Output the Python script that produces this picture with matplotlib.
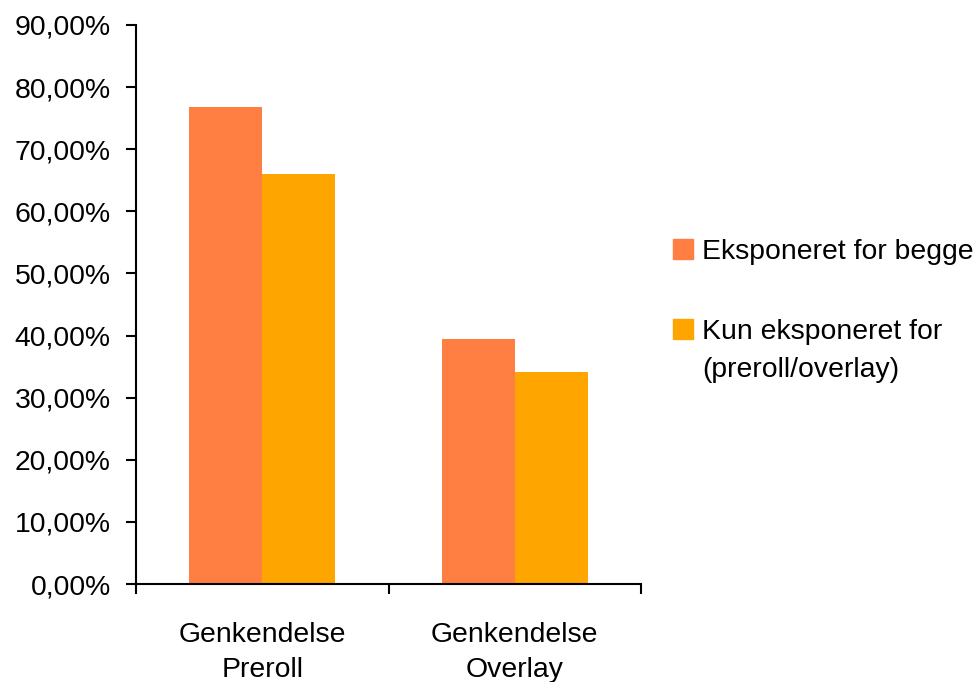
import matplotlib
matplotlib.use("Agg")
import matplotlib.pyplot as plt
import numpy as np
from matplotlib.ticker import FuncFormatter, FixedLocator
from matplotlib.patches import Rectangle

categories = ["Genkendelse\nPreroll", "Genkendelse\nOverlay"]
series_names = ["Eksponeret for begge", "Kun eksponeret for\n(preroll/overlay)"]
eksponeret = [76.8, 39.4]
kun = [66.0, 34.1]
colors = ["#FF7F42", "#FFA500"]

plt.rcParams['font.family'] = ['Liberation Sans', 'DejaVu Sans']
fs = 20.4
W, H = 979, 682

fig = plt.figure(figsize=(W/100, H/100), dpi=100)
ax = fig.add_axes([136/W, 1-584/H, (641-136)/W, (584-25)/H])

x = np.arange(len(categories))
w = 0.29
ax.bar(x - w/2, eksponeret, width=w, color=colors[0], label=series_names[0])
ax.bar(x + w/2, kun, width=w, color=colors[1], label=series_names[1])

ax.set_xlim(-0.5, len(categories) - 0.5)
ax.set_ylim(0, 90)
ax.set_yticks(np.arange(0, 91, 10))
ax.yaxis.set_major_formatter(FuncFormatter(lambda v, p: f"{v:.2f}".replace(".", ",") + "%"))
ax.xaxis.set_major_locator(FixedLocator([-0.5, 0.5, 1.5]))
ax.xaxis.set_major_formatter(FuncFormatter(lambda v, p: ""))
ax.xaxis.set_minor_locator(FixedLocator(x))
ax.set_xticklabels(categories, minor=True)
for lbl in ax.get_xticklabels(minor=True):
    lbl.set_linespacing(1.47)
ax.tick_params(axis='x', which='minor', length=0, pad=27, labelsize=fs)
ax.tick_params(axis='x', which='major', length=7, width=1.5, direction='out')
ax.tick_params(axis='y', length=7.2, width=1.5, direction='out', labelsize=fs, pad=11)
for s in ['top', 'right']:
    ax.spines[s].set_visible(False)
for s in ['left', 'bottom']:
    ax.spines[s].set_linewidth(1.5)

# legend (drawn manually so the swatch lines up with the first text line)
leg_sw_x = 673
leg_txt_x = 702
leg_swatch_base = [259, 339]
leg_text_base = [259, 377]
for i, (name, col) in enumerate(zip(series_names, colors)):
    b = leg_swatch_base[i]
    fig.patches.append(Rectangle((leg_sw_x/W, 1-b/H), 20/W, 20/H,
                                 transform=fig.transFigure, color=col, figure=fig))
    fig.text(leg_txt_x/W, 1-leg_text_base[i]/H, name, fontsize=fs, va='baseline',
             ha='left', linespacing=1.61)

fig.savefig("out.png", dpi=100)
